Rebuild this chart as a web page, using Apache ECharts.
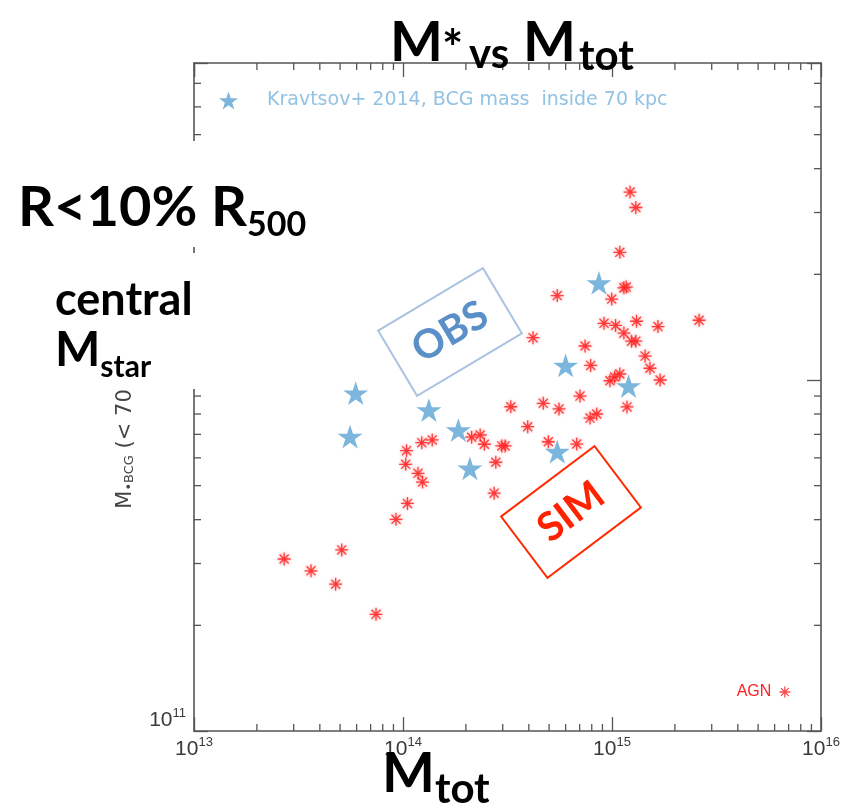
<!DOCTYPE html>
<html>
<head>
<meta charset="utf-8">
<title>M* vs Mtot</title>
<script src="https://cdn.jsdelivr.net/npm/echarts@6/dist/echarts.min.js"></script>
<style>
  html, body { margin: 0; padding: 0; background: #fff; }
  #chart { width: 843px; height: 807px; }
</style>
</head>
<body>
<div id="chart"></div>
<script>
// Axis ranges (solar masses)
const X_MIN = 1e13, X_MAX = 1e16;
const Y_MIN = 1e11, Y_MAX = 8e12;

// Simulated central galaxies: total mass and BCG stellar mass
const simMtot = [2.70e13, 3.63e13, 4.76e13, 5.09e13, 7.43e13, 9.26e13, 1.05e14, 1.03e14, 1.04e14,
  1.18e14, 1.24e14, 1.23e14, 1.38e14, 2.13e14, 2.34e14, 2.45e14, 2.97e14, 3.08e14, 2.78e14, 2.73e14,
  3.95e14, 4.96e14, 3.28e14, 4.69e14, 1.22e15, 1.30e15, 1.09e15, 1.17e15, 1.14e15, 9.97e14, 5.47e14,
  9.16e14, 1.04e15, 1.31e15, 1.66e15, 2.61e15, 1.14e15, 1.24e15, 1.30e15, 4.19e14, 7.43e14, 7.91e14,
  1.44e15, 1.52e15, 1.70e15, 9.78e14, 1.03e15, 1.09e15, 7.03e14, 5.58e14, 8.45e14, 7.85e14, 1.18e15,
  6.78e14];
const simMbcg = [3.09e11, 2.86e11, 2.62e11, 3.28e11, 2.15e11, 4.01e11, 4.45e11, 5.75e11, 6.29e11,
  5.42e11, 5.12e11, 6.63e11, 6.75e11, 6.87e11, 6.97e11, 6.56e11, 6.49e11, 6.49e11, 5.83e11, 4.76e11,
  7.36e11, 6.67e11, 8.39e11, 8.58e11, 3.43e12, 3.10e12, 2.31e12, 1.84e12, 1.83e12, 1.70e12, 1.74e12,
  1.45e12, 1.43e12, 1.47e12, 1.42e12, 1.48e12, 1.36e12, 1.29e12, 1.29e12, 1.32e12, 1.25e12, 1.10e12,
  1.17e12, 1.08e12, 1.00e12, 9.95e11, 1.02e12, 1.04e12, 9.00e11, 8.27e11, 8.00e11, 7.79e11, 8.38e11,
  6.57e11];

// Kravtsov+ 2014 clusters
const obsMtot = [5.94e13, 5.58e13, 1.33e14, 1.84e14, 2.09e14, 5.47e14, 6.00e14, 8.66e14, 1.20e15];
const obsMbcg = [9.17e11, 6.90e11, 8.21e11, 7.20e11, 5.60e11, 6.25e11, 1.10e12, 1.89e12, 9.61e11];

// Decades that carry minor ticks, and the mantissas of those ticks
const xTickDecades = [13, 14, 15];
const yTickDecades = [11, 12];
const minorMantissas = [2, 3, 4, 5, 6, 7, 8, 9];

const OBS_NAME = 'Kravtsov+ 2014, BCG mass  inside 70 kpc';
const SIM_NAME = 'AGN';

const AXIS_COLOR = '#555';
const MAJOR_LEN = 14, MINOR_LEN = 7;
const STAR = 'path://M100,0L122.5,69.1L195.1,69.1L136.3,111.8L158.8,180.9L100,138.2L41.2,180.9L63.7,111.8L4.9,69.1L77.5,69.1Z';
const ASTERISK = 'path://M5,0L5,10M0,5L10,5M1.5,1.5L8.5,8.5M1.5,8.5L8.5,1.5';

const xMinor = [];
xTickDecades.forEach(d => minorMantissas.forEach(m => xMinor.push([m * Math.pow(10, d), Y_MIN])));
const yMinor = [];
yTickDecades.forEach(d => minorMantissas.forEach(m => {
  const v = m * Math.pow(10, d);
  if (v < Y_MAX) yMinor.push([X_MIN, v]);
}));

const tickStyle = { stroke: AXIS_COLOR, lineWidth: 1.3 };

function minorTicks(isX) {
  return function (params, api) {
    if (isX) {
      const v = api.value(0);
      const b = api.coord([v, Y_MIN]), t = api.coord([v, Y_MAX]);
      return { type: 'group', children: [
        { type: 'line', shape: { x1: b[0], y1: b[1], x2: b[0], y2: b[1] - MINOR_LEN }, style: tickStyle },
        { type: 'line', shape: { x1: t[0], y1: t[1], x2: t[0], y2: t[1] + MINOR_LEN }, style: tickStyle }
      ] };
    }
    const v = api.value(1);
    const l = api.coord([X_MIN, v]), r = api.coord([X_MAX, v]);
    return { type: 'group', children: [
      { type: 'line', shape: { x1: l[0], y1: l[1], x2: l[0] + MINOR_LEN, y2: l[1] }, style: tickStyle },
      { type: 'line', shape: { x1: r[0], y1: r[1], x2: r[0] - MINOR_LEN, y2: r[1] }, style: tickStyle }
    ] };
  };
}

function powLabel(value) {
  const e = Math.round(Math.log10(value));
  if (Math.abs(value - Math.pow(10, e)) / value > 1e-6) return '';
  return '{b|10}{s|' + e + '}';
}

const tickRich = {
  b: { fontFamily: 'Liberation Sans', fontSize: 21, color: '#3a3a3a', lineHeight: 24, verticalAlign: 'bottom' },
  s: { fontFamily: 'Liberation Sans', fontSize: 13, color: '#3a3a3a', lineHeight: 15, verticalAlign: 'top' }
};

function logAxis(min, max, position, labels) {
  return {
    type: 'log', logBase: 10, min, max, position,
    axisLine: { show: true, lineStyle: { color: AXIS_COLOR, width: 1.6 } },
    axisTick: { show: true, inside: true, length: MAJOR_LEN, lineStyle: { color: AXIS_COLOR, width: 1.3 } },
    minorTick: { show: false },
    splitLine: { show: false },
    axisLabel: labels ? { show: true, formatter: powLabel, rich: tickRich } : { show: false }
  };
}

// Text placement helpers: positions are given by the alphabetic baseline
const mctx = document.createElement('canvas').getContext('2d');
function fontOf(size) { return 'bold ' + size + 'px Lato'; }
function middleShift(font, size) {
  mctx.font = font;
  mctx.textBaseline = 'alphabetic';
  const a = mctx.measureText('Mg').fontBoundingBoxAscent;
  mctx.textBaseline = 'middle';
  const m = mctx.measureText('Mg').fontBoundingBoxAscent;
  mctx.textBaseline = 'alphabetic';
  return (typeof a === 'number' && typeof m === 'number') ? a - m : 0.37 * size;
}
function widthOf(str, size) { mctx.font = fontOf(size); return mctx.measureText(str).width; }
function textEl(str, x, baseline, size, color) {
  const font = fontOf(size);
  return {
    type: 'text', x: x, y: baseline - middleShift(font, size), z: 110, silent: true,
    style: { text: str, font: font, fill: color || '#000', align: 'left', textAlign: 'left',
      verticalAlign: 'middle', textVerticalAlign: 'middle' }
  };
}
// A run of pieces laid out left to right from x; a piece may carry its own x
function textRun(pieces, x) {
  let cx = x;
  return pieces.map(p => {
    if (p.x !== undefined) cx = p.x;
    const el = textEl(p.t, cx, p.base, p.size, p.color);
    cx += widthOf(p.t, p.size) + (p.gap || 0);
    return el;
  });
}

function tagBox(label, cx, cy, deg, w, h, stroke, fill) {
  return {
    type: 'group', x: cx, y: cy, rotation: deg * Math.PI / 180, z: 105, silent: true,
    children: [
      { type: 'rect', shape: { x: -w / 2, y: -h / 2, width: w, height: h },
        style: { fill: 'rgba(0,0,0,0)', stroke: stroke, lineWidth: 2 } },
      { type: 'text', x: 0, y: 0,
        style: { text: label, font: 'bold 40px Lato', fill: fill, align: 'center', textAlign: 'center',
          verticalAlign: 'middle', textVerticalAlign: 'middle' } }
    ]
  };
}

const graphics = [
  // panels behind the side annotations
  { type: 'rect', z: 100, silent: true, shape: { x: 0, y: 141, width: 330, height: 106 }, style: { fill: '#fff' } },
  { type: 'rect', z: 100, silent: true, shape: { x: 0, y: 253, width: 212, height: 136 }, style: { fill: '#fff' } }
]
  .concat(textRun([
    { t: 'M', size: 56, base: 61, x: 390 },
    { t: '*', size: 50, base: 66, x: 442 },
    { t: 'vs', size: 42, base: 68, x: 469 },
    { t: 'M', size: 56, base: 61, x: 523 },
    { t: 'tot', size: 42, base: 70, x: 579 }
  ], 390))
  .concat(textRun([
    { t: 'R<10% R', size: 56, base: 226 },
    { t: '500', size: 34, base: 236 }
  ], 18))
  .concat([textEl('central', 55, 315, 45)])
  .concat(textRun([
    { t: 'M', size: 48, base: 366 },
    { t: 'star', size: 30, base: 377 }
  ], 55))
  .concat(textRun([
    { t: 'M', size: 56, base: 792 },
    { t: 'tot', size: 42, base: 803 }
  ], 382))
  .concat([
    tagBox('OBS', 450, 332, 30.8, 122, 76, '#a9c3e1', '#5b8fc8'),
    tagBox('SIM', 571, 512, 37, 117, 77, '#ff2a00', '#ff2200')
  ]);

const chart = echarts.init(document.getElementById('chart'), null, { renderer: 'canvas' });
chart.setOption({
  animation: false,
  backgroundColor: '#fff',
  grid: { left: 194, right: 22, top: 63, bottom: 76, containLabel: false },
  xAxis: [
    Object.assign(logAxis(X_MIN, X_MAX, 'bottom', true), {
      axisLabel: { show: true, formatter: powLabel, rich: tickRich, margin: 5 }
    }),
    logAxis(X_MIN, X_MAX, 'top', false)
  ],
  yAxis: [
    Object.assign(logAxis(Y_MIN, Y_MAX, 'left', true), {
      axisLabel: { show: true, formatter: powLabel, rich: tickRich, margin: 8, verticalAlign: 'bottom' },
      name: '{m|M}{s|\u2022BCG}{m| (< 70 kpc) [M}{s|\u2299}{m|]}',
      nameLocation: 'middle', nameRotate: 90, nameGap: 58,
      nameTextStyle: {
        rich: {
          m: { fontFamily: 'DejaVu Sans', fontSize: 21, color: '#444', lineHeight: 24, verticalAlign: 'bottom' },
          s: { fontFamily: 'DejaVu Sans', fontSize: 13, color: '#444', lineHeight: 13, verticalAlign: 'bottom' }
        }
      }
    }),
    logAxis(Y_MIN, Y_MAX, 'right', false)
  ],
  legend: [
    {
      data: [OBS_NAME], left: 219, top: 91, padding: 0, itemWidth: 19, itemHeight: 19,
      selectedMode: false,
      textStyle: { color: '#92c2e4', fontSize: 19, fontFamily: 'DejaVu Sans', padding: [0, 0, 0, 24] }
    },
    {
      data: [SIM_NAME], right: 52, top: 684, padding: 0, itemWidth: 11, itemHeight: 11, align: 'right',
      selectedMode: false,
      itemStyle: { borderWidth: 1.3 },
      textStyle: { color: '#ff2020', fontSize: 16, fontFamily: 'Liberation Sans', padding: [0, 3, 0, 0] }
    }
  ],
  series: [
    {
      name: SIM_NAME, type: 'scatter', symbol: ASTERISK, symbolSize: 13, z: 3,
      itemStyle: { color: 'rgba(0,0,0,0)', borderColor: '#ff1a1a', borderWidth: 1.3,
        shadowBlur: 3, shadowColor: 'rgba(255,90,90,0.8)' },
      data: simMtot.map((m, i) => [m, simMbcg[i]])
    },
    {
      name: OBS_NAME, type: 'scatter', symbol: STAR, symbolSize: 25, symbolKeepAspect: true, z: 4,
      itemStyle: { color: '#5da4d4' },
      data: obsMtot.map((m, i) => [m, obsMbcg[i]])
    },
    { type: 'custom', silent: true, z: 5, renderItem: minorTicks(true), data: xMinor },
    { type: 'custom', silent: true, z: 5, renderItem: minorTicks(false), data: yMinor }
  ],
  graphic: graphics
});
</script>
</body>
</html>
